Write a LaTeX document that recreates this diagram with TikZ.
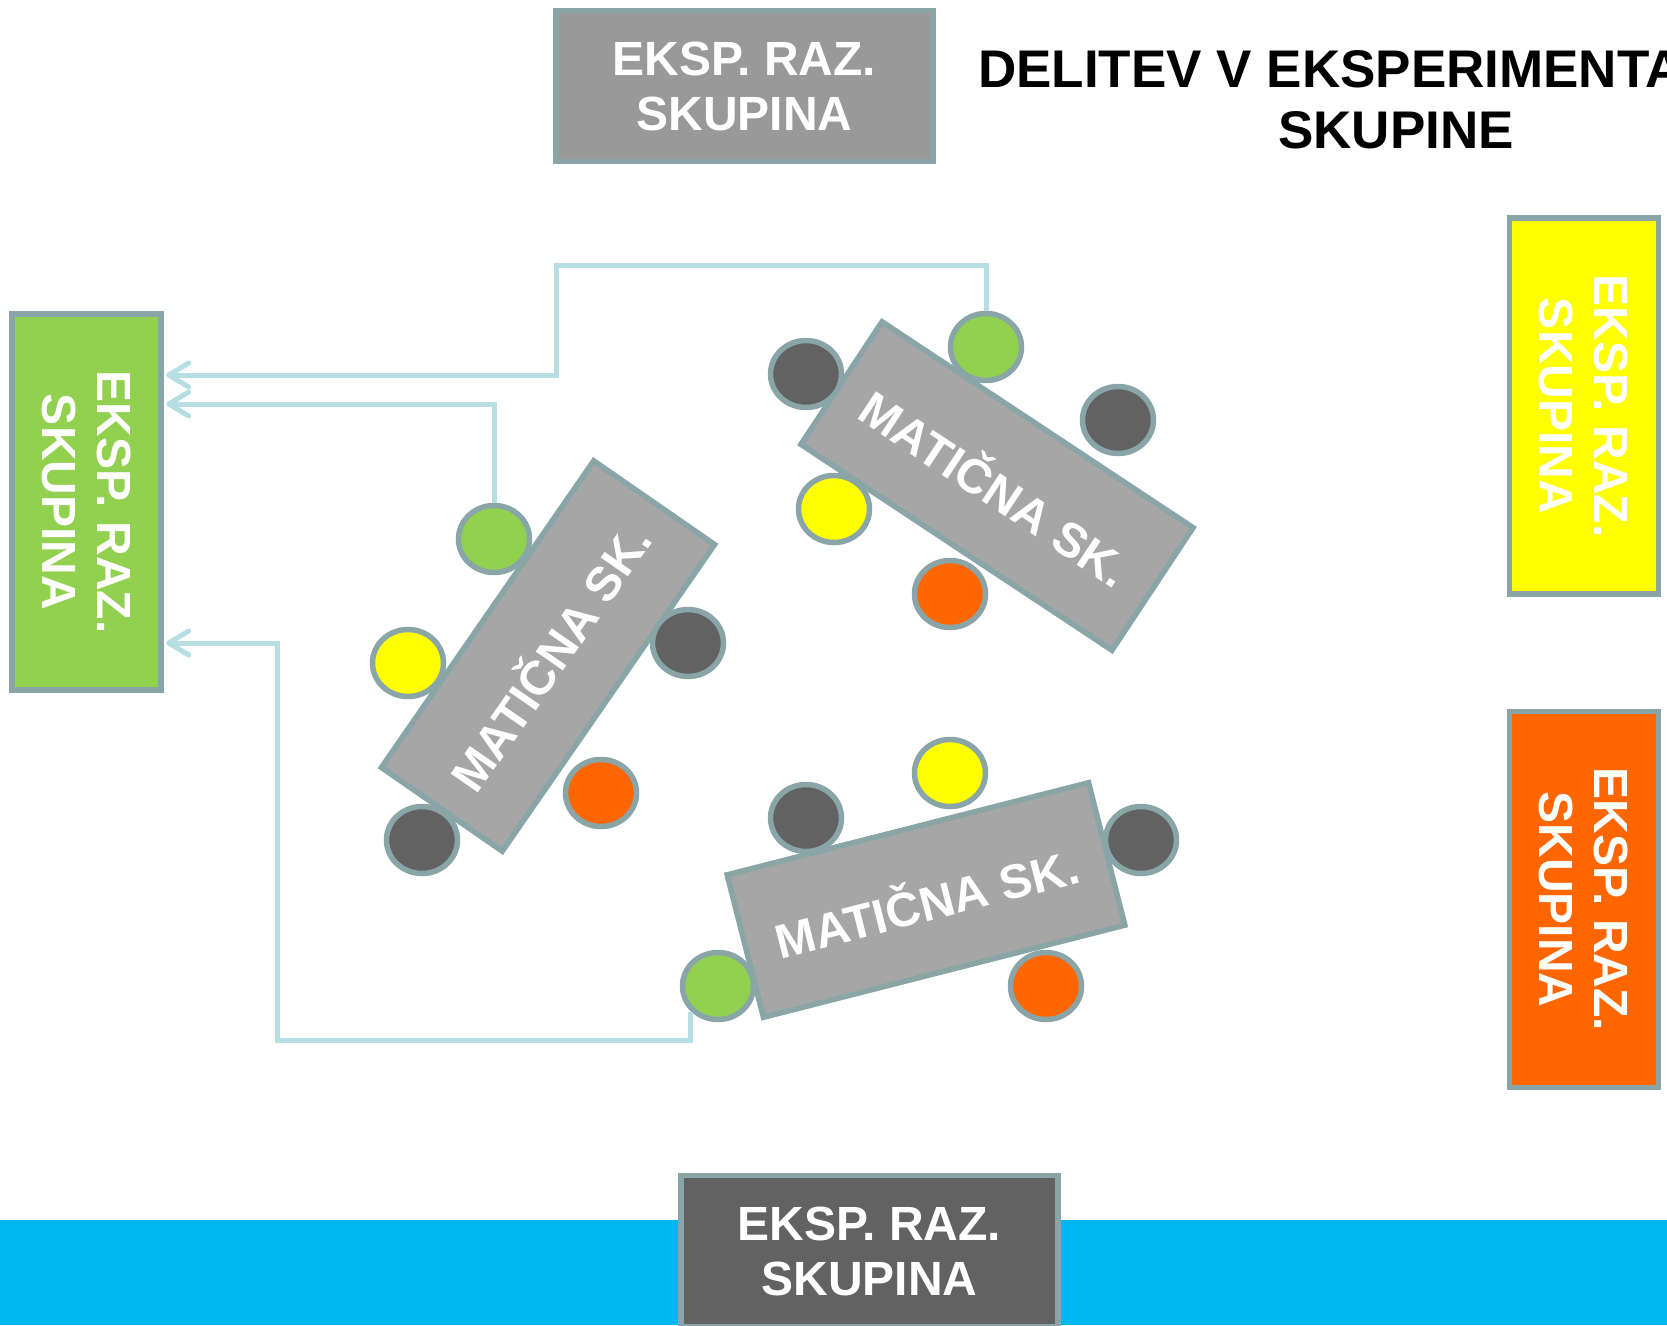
\documentclass[tikz,border=0pt]{standalone}
\usepackage{fontspec}
\setmainfont{Liberation Sans}
\usetikzlibrary{arrows.meta,shapes.geometric}

\definecolor{edgecol}{RGB}{138,165,168}
\definecolor{boxgray}{RGB}{153,153,153}
\definecolor{darkfill}{RGB}{98,98,98}
\definecolor{deskfill}{RGB}{166,166,166}
\definecolor{grn}{RGB}{146,208,80}
\definecolor{ylw}{RGB}{255,255,0}
\definecolor{org}{RGB}{255,102,0}
\definecolor{bandcol}{RGB}{0,184,240}
\definecolor{linkcol}{RGB}{183,222,226}

\begin{document}
\begin{tikzpicture}[x=1pt,y=-1pt,
  grpbox/.style={rectangle, draw=edgecol, line width=5.5pt, text=white, align=center,
    inner sep=0pt, font=\bfseries\fontsize{48}{55}\selectfont},
  hbox/.style={grpbox, minimum width=377pt, minimum height=151pt},
  vbox/.style={grpbox, rotate=-90, minimum width=376pt, minimum height=149pt},
  desk/.style={rectangle, draw=edgecol, line width=5.5pt, fill=deskfill, text=white,
    minimum width=373pt, minimum height=147pt, inner sep=0pt,
    font=\bfseries\fontsize{48}{52}\selectfont},
  seat/.style={ellipse, draw=edgecol, line width=5.5pt, minimum width=71pt,
    minimum height=67pt, inner sep=0pt},
  conn/.style={draw=linkcol, line width=5pt,
    -{Straight Barb[length=20pt,width=24pt,round]}},
  title/.style={anchor=base west, inner sep=0pt, text=black,
    font=\bfseries\fontsize{53}{61}\selectfont},
]
\useasboundingbox (0,0) rectangle (1667,1325);

% blue strip along the bottom
\fill[bandcol] (0,1220) rectangle (1667,1325);

% title
\node[title] (t1) at (978,87) {DELITEV V EKSPERIMENTALNE};
\node[title] (t2) at (1278,148) {SKUPINE};

% expert groups
\node[hbox, fill=boxgray] (gtop) at (744.5,86) {EKSP. RAZ.\\SKUPINA};
\node[hbox, fill=darkfill] (gbot) at (869.5,1251) {EKSP. RAZ.\\SKUPINA};
\node[vbox, fill=grn] (ggrn) at (86.5,502) {EKSP. RAZ.\\SKUPINA};
\node[vbox, fill=ylw] (gylw) at (1584,406) {EKSP. RAZ.\\SKUPINA};
\node[vbox, fill=org] (gorg) at (1584,899.5) {EKSP. RAZ.\\SKUPINA};

% home groups (tables)
\node[desk, rotate=55.3] (desk1) at (548,656) {MATIČNA SK.};
\node[desk, rotate=-33.5] (desk2) at (997,486) {MATIČNA SK.};
\node[desk, rotate=14.3] (desk3) at (926,900) {MATIČNA SK.};

% seats around table 1
\node[seat, fill=grn] (g1) at (494,539) {};
\node[seat, fill=ylw] (y1) at (408,663) {};
\node[seat, fill=darkfill] (d1a) at (688,643) {};
\node[seat, fill=org] (o1) at (601,793) {};
\node[seat, fill=darkfill] (d1b) at (422,840) {};

% seats around table 2
\node[seat, fill=darkfill] (d2a) at (806,374) {};
\node[seat, fill=grn] (g2) at (986,347) {};
\node[seat, fill=darkfill] (d2b) at (1118,420) {};
\node[seat, fill=ylw] (y2) at (834,509) {};
\node[seat, fill=org] (o2) at (950,594) {};

% seats around table 3
\node[seat, fill=darkfill] (d3a) at (806,818) {};
\node[seat, fill=ylw] (y3) at (950,773) {};
\node[seat, fill=darkfill] (d3b) at (1141,840) {};
\node[seat, fill=grn] (g3) at (718,986) {};
\node[seat, fill=org] (o3) at (1046,986) {};

% green members moving to the green expert group
% (the box is turned by -90, so its north side faces right)
\draw[conn] (g2.north) |- (556,265) |- ([xshift=2.5pt]ggrn.north |- 0,375);
\draw[conn] (g1.north) |- ([xshift=2.5pt]ggrn.north |- 0,404);
\draw[conn] (g3.south west) |- (277,1040) |- ([xshift=2.5pt]ggrn.north |- 0,643);
\end{tikzpicture}
\end{document}
